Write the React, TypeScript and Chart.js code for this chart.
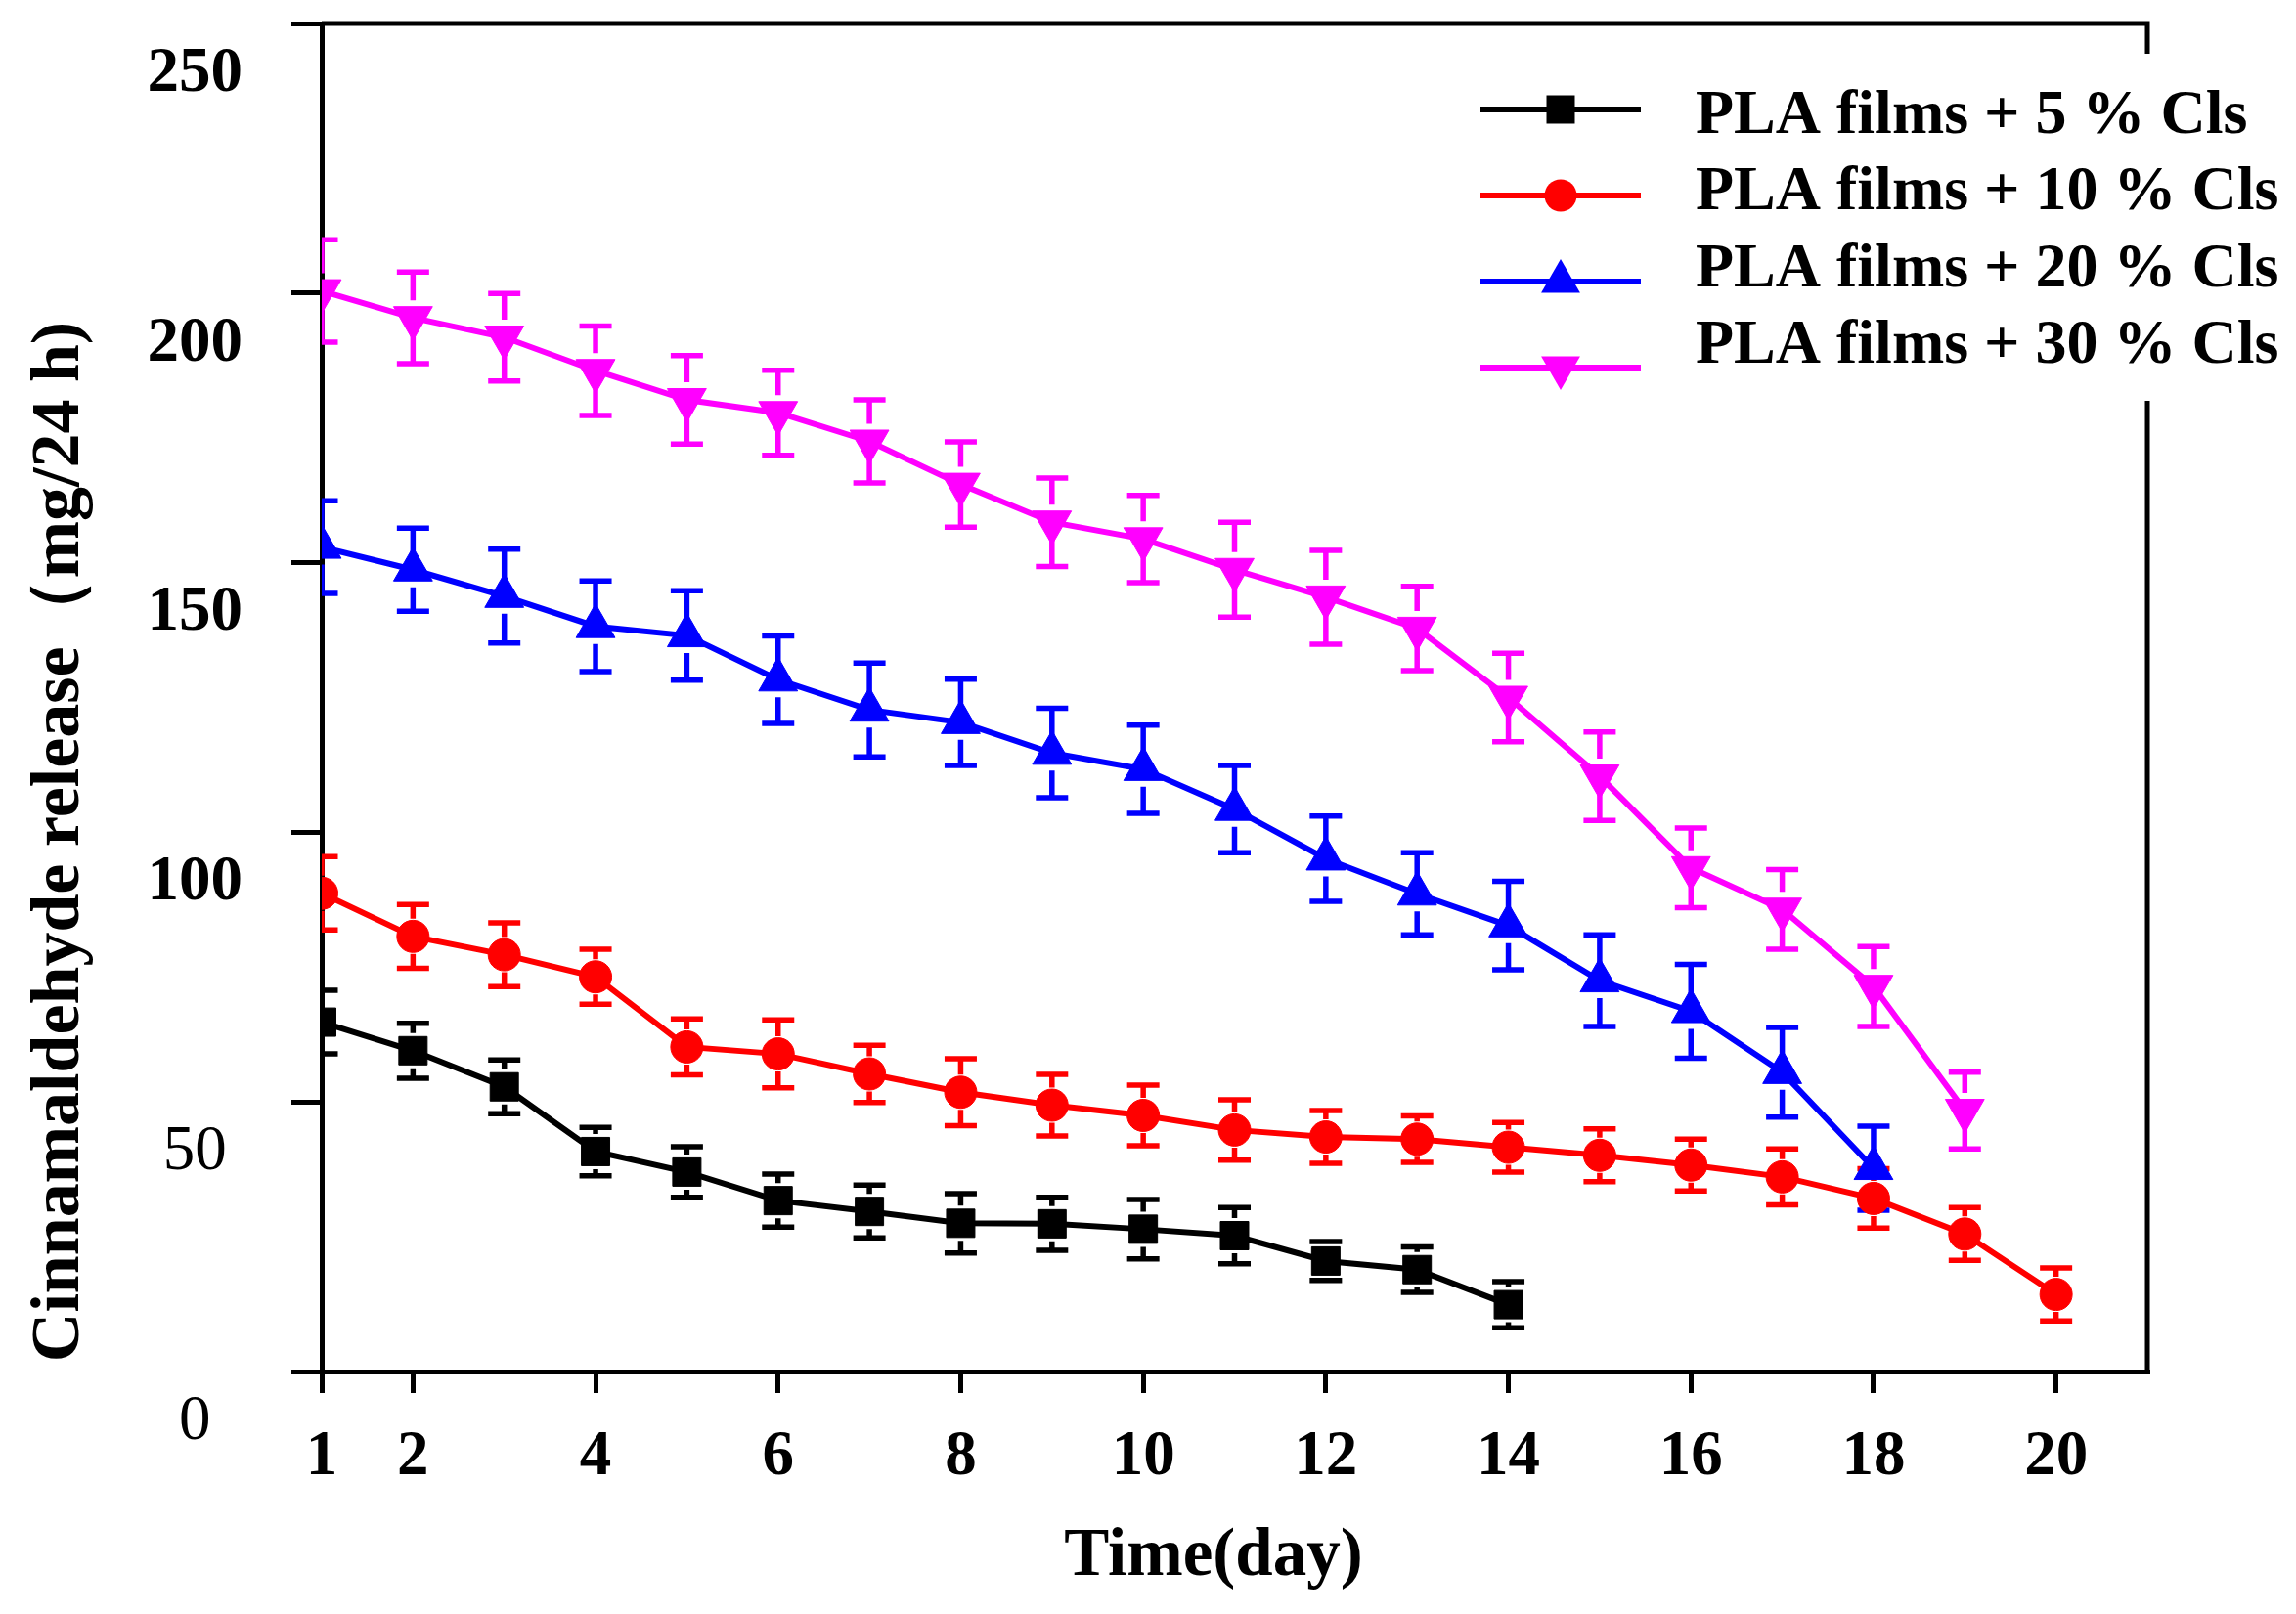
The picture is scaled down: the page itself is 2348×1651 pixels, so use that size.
import React, { useEffect, useRef } from 'react';
import { Chart, registerables } from 'chart.js';

Chart.register(...registerables);

// ---------------- data ----------------
const days = [1, 2, 3, 4, 5, 6, 7, 8, 9, 10, 11, 12, 13, 14, 15, 16, 17, 18, 19, 20];
const xTickValues = [1, 2, 4, 6, 8, 10, 12, 14, 16, 18, 20];
const yTickValues = [0, 50, 100, 150, 200, 250];

const seriesLabels = [
  'PLA films + 5 % Cls',
  'PLA films + 10 % Cls',
  'PLA films + 20 % Cls',
  'PLA films + 30 % Cls',
];

const cls5 = [64.8, 59.5, 52.8, 40.8, 37.0, 31.7, 29.7, 27.5, 27.4, 26.4, 25.2, 20.5, 18.9, 12.4];
const cls5Err = [5.9, 5.1, 5.0, 4.5, 4.7, 4.9, 4.9, 5.5, 4.9, 5.5, 5.2, 3.6, 4.2, 4.3];

const cls10 = [88.7, 80.7, 77.3, 73.2, 60.2, 58.9, 55.2, 51.8, 49.4, 47.5, 44.8, 43.5, 43.1, 41.6, 40.1, 38.3, 36.1, 32.1, 25.5, 14.3];
const cls10Err = [6.8, 5.9, 5.9, 5.1, 5.2, 6.3, 5.3, 6.2, 5.7, 5.6, 5.6, 4.9, 4.3, 4.6, 4.9, 4.8, 5.2, 5.5, 4.9, 4.9];

const cls20 = [152.9, 148.7, 143.8, 138.2, 136.5, 128.3, 122.7, 120.4, 114.7, 111.7, 104.3, 95.1, 88.6, 82.7, 72.5, 66.8, 55.5, 37.7];
const cls20Err = [8.6, 7.7, 8.7, 8.4, 8.3, 8.1, 8.7, 8.0, 8.3, 8.2, 8.1, 7.9, 7.6, 8.2, 8.5, 8.7, 8.3, 7.8];

const cls30 = [200.4, 195.4, 191.8, 185.6, 180.2, 177.8, 172.5, 164.5, 157.5, 154.4, 148.7, 143.6, 137.8, 125.0, 110.4, 93.4, 85.7, 71.4, 48.4];
const cls30Err = [9.5, 8.5, 8.1, 8.3, 8.2, 7.9, 7.7, 7.9, 8.2, 8.1, 8.8, 8.7, 7.8, 8.2, 8.2, 7.4, 7.4, 7.4, 7.1];

const xTitle = 'Time(day)';
const yTitle = 'Cinnamaldehyde release（mg/24 h)';

// ---------------- styling ----------------
const W = 2348;
const H = 1651;
const FONT = "'Liberation Serif', 'Times New Roman', serif";
const AXIS_W = 5;
const SERIES_W = 6;
const ERR_W = 5.5;
const ERR_CAP = 16.5;
const ERR_GAP = 18;

const styles = [
  { color: '#000000', point: 'rect', radius: 20.5, rotation: 0 },
  { color: '#ff0000', point: 'circle', radius: 16.5, rotation: 0 },
  { color: '#0000ff', point: 'triangle', radius: 23, rotation: 0 },
  { color: '#ff00ff', point: 'triangle', radius: 23, rotation: 180 },
];

const toPoints = (vals: number[]) => vals.map((v, i) => ({ x: days[i], y: v }));

function drawMarker(ctx: CanvasRenderingContext2D, style: string, rotation: number, x: number, y: number, r: number, color: string) {
  ctx.save();
  ctx.fillStyle = color;
  ctx.beginPath();
  if (style === 'rect') {
    const s = Math.SQRT1_2 * r;
    ctx.rect(x - s, y - s, 2 * s, 2 * s);
  } else if (style === 'circle') {
    ctx.arc(x, y, r, 0, Math.PI * 2);
  } else {
    let rad = (rotation * Math.PI) / 180;
    ctx.moveTo(x + Math.sin(rad) * r, y - Math.cos(rad) * r);
    rad += (2 * Math.PI) / 3;
    ctx.lineTo(x + Math.sin(rad) * r, y - Math.cos(rad) * r);
    rad += (2 * Math.PI) / 3;
    ctx.lineTo(x + Math.sin(rad) * r, y - Math.cos(rad) * r);
    ctx.closePath();
  }
  ctx.fill();
  ctx.restore();
}

const errorBarPlugin = {
  id: 'errorBars',
  beforeDatasetsDraw(chart: any) {
    const { ctx, chartArea, scales } = chart;
    const xs = scales.x;
    const ys = scales.y;
    ctx.save();
    ctx.beginPath();
    ctx.rect(chartArea.left, chartArea.top, chartArea.right - chartArea.left, chartArea.bottom - chartArea.top);
    ctx.clip();
    chart.data.datasets.forEach((ds: any) => {
      const errs: number[] = ds.errors || [];
      ctx.strokeStyle = ds.borderColor;
      ctx.lineWidth = ERR_W;
      ds.data.forEach((p: any, j: number) => {
        const e = errs[j] || 0;
        const px = xs.getPixelForValue(p.x);
        const c = ys.getPixelForValue(p.y);
        const top = ys.getPixelForValue(p.y + e);
        const bot = ys.getPixelForValue(p.y - e);
        ctx.beginPath();
        ctx.moveTo(px, top);
        ctx.lineTo(px, Math.max(top, c - ERR_GAP));
        ctx.moveTo(px, Math.min(bot, c + ERR_GAP));
        ctx.lineTo(px, bot);
        ctx.moveTo(px - ERR_CAP, top);
        ctx.lineTo(px + ERR_CAP, top);
        ctx.moveTo(px - ERR_CAP, bot);
        ctx.lineTo(px + ERR_CAP, bot);
        ctx.stroke();
      });
    });
    ctx.restore();
  },
};

const framePlugin = {
  id: 'frame',
  afterDatasetsDraw(chart: any) {
    const { ctx, chartArea } = chart;
    ctx.save();
    ctx.strokeStyle = '#000';
    ctx.lineWidth = AXIS_W;
    ctx.beginPath();
    ctx.moveTo(chartArea.left, chartArea.top);
    ctx.lineTo(chartArea.right, chartArea.top);
    ctx.lineTo(chartArea.right, chartArea.bottom);
    ctx.stroke();
    ctx.restore();
  },
};

const titlesPlugin = {
  id: 'titles',
  afterDraw(chart: any) {
    const { ctx, chartArea } = chart;
    ctx.save();
    ctx.fillStyle = '#000';
    ctx.textAlign = 'center';
    ctx.textBaseline = 'middle';
    ctx.font = `bold 69px ${FONT}`;
    ctx.fillText(xTitle, chartArea.left + 912, chartArea.bottom + 190);
    ctx.translate(62, chartArea.top + 837);
    ctx.rotate(-Math.PI / 2);
    ctx.font = `bold 70px ${FONT}`;
    ctx.fillText(yTitle, 0, 0);
    ctx.restore();
  },
};

const legendPlugin = {
  id: 'customLegend',
  afterDraw(chart: any) {
    const { ctx } = chart;
    ctx.save();
    ctx.fillStyle = '#ffffff';
    ctx.fillRect(1497, 55, W - 1497, 355);
    chart.data.datasets.forEach((ds: any, i: number) => {
      const st = styles[i];
      const ly = 112 + i * 88;
      ctx.strokeStyle = st.color;
      ctx.lineWidth = SERIES_W;
      ctx.beginPath();
      ctx.moveTo(1514, ly);
      ctx.lineTo(1678, ly);
      ctx.stroke();
      drawMarker(ctx, st.point, st.rotation, 1596, ly, st.radius, st.color);
      ctx.fillStyle = '#000';
      ctx.font = `bold 64px ${FONT}`;
      ctx.textAlign = 'left';
      ctx.textBaseline = 'middle';
      ctx.fillText(ds.label, 1734, 119 + i * 78.5);
    });
    ctx.restore();
  },
};

export default function App() {
  const canvasRef = useRef<HTMLCanvasElement | null>(null);

  useEffect(() => {
    if (!canvasRef.current) return;
    const seriesValues = [cls5, cls10, cls20, cls30];
    const seriesErrors = [cls5Err, cls10Err, cls20Err, cls30Err];
    const datasets: any[] = seriesValues.map((vals, i) => ({
      label: seriesLabels[i],
      data: toPoints(vals),
      errors: seriesErrors[i],
      borderColor: styles[i].color,
      backgroundColor: styles[i].color,
      borderWidth: SERIES_W,
      pointStyle: styles[i].point,
      pointRotation: styles[i].rotation,
      pointRadius: styles[i].radius,
      pointBackgroundColor: styles[i].color,
      pointBorderColor: styles[i].color,
      pointBorderWidth: 1,
      tension: 0,
      fill: false,
    }));

    const chart = new Chart(canvasRef.current, {
      type: 'line',
      data: { datasets },
      options: {
        animation: false,
        responsive: false,
        layout: { padding: { left: 0, top: 24, right: 152, bottom: 0 } },
        plugins: { legend: { display: false }, tooltip: { enabled: false } },
        scales: {
          x: {
            type: 'linear',
            min: 1,
            max: 21,
            afterBuildTicks: (s: any) => {
              s.ticks = xTickValues.map((v) => ({ value: v }));
            },
            afterFit: (s: any) => {
              s.height = 248;
              s.paddingLeft = 0;
              s.paddingRight = 0;
            },
            grid: { drawOnChartArea: false, drawTicks: true, tickLength: 22, lineWidth: AXIS_W, color: '#000', tickColor: '#000' },
            border: { display: true, width: AXIS_W, color: '#000' },
            ticks: {
              autoSkip: false,
              maxRotation: 0,
              minRotation: 0,
              padding: 27,
              color: '#000',
              font: { family: FONT, size: 65, weight: 'bold' },
              callback: (v: any) => String(v),
            },
          },
          y: {
            type: 'linear',
            min: 0,
            max: 250,
            afterBuildTicks: (s: any) => {
              s.ticks = yTickValues.map((v) => ({ value: v }));
            },
            afterFit: (s: any) => {
              s.width = 329;
              s.paddingTop = 0;
              s.paddingBottom = 0;
            },
            grid: { drawOnChartArea: false, drawTicks: true, tickLength: 31, lineWidth: AXIS_W, color: '#000', tickColor: '#000' },
            border: { display: true, width: AXIS_W, color: '#000' },
            ticks: {
              crossAlign: 'center',
              padding: 50,
              labelOffset: 52,
              color: '#000',
              font: (c: any) => ({
                family: FONT,
                size: 65,
                weight: c.tick && c.tick.value <= 50 ? 'normal' : 'bold',
              }),
              callback: (v: any) => String(v),
            },
          },
        },
      } as any,
      plugins: [errorBarPlugin, framePlugin, legendPlugin, titlesPlugin],
    });

    return () => chart.destroy();
  }, []);

  return (
    <div style={{ position: 'absolute', left: 0, top: 0, width: W, height: H, background: '#ffffff' }}>
      <canvas ref={canvasRef} width={W} height={H} style={{ display: 'block' }} />
    </div>
  );
}
